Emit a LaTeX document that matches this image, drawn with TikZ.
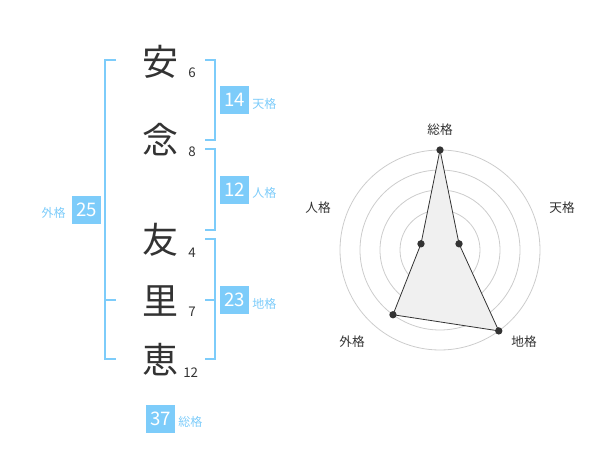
\documentclass[tikz,border=0pt]{standalone}
\usepackage{fontspec}
\setmainfont{Noto Sans CJK JP}
\definecolor{kakublue}{RGB}{125,204,250}
\definecolor{inkgray}{RGB}{51,51,51}
\definecolor{ringgray}{RGB}{204,204,204}
\tikzset{
  kanji/.style={inner sep=0pt,text=inkgray,font=\fontsize{27}{27}\selectfont},
  strokes/.style={anchor=west,inner sep=0.75pt,text=inkgray,font=\fontsize{10}{10}\selectfont},
  scorebox/.style={fill=kakublue,text=white,minimum width=21.75pt,minimum height=21pt,inner sep=0pt,font=\fontsize{14}{14}\selectfont},
  kakulabel/.style={anchor=west,inner sep=0.75pt,text=kakublue,font=\fontsize{9}{10}\selectfont},
  bracket/.style={draw=kakublue,line width=1.5pt},
  ring/.style={draw=ringgray,line width=0.6pt},
  radarlabel/.style={inner sep=0.75pt,text=inkgray,font=\fontsize{9.5}{10}\selectfont},
  radardot/.style={circle,fill=inkgray,inner sep=0pt,minimum size=5.5pt}
}
\begin{document}
\begin{tikzpicture}[x=0.75pt,y=0.75pt,yscale=-1,xscale=1]
      \useasboundingbox (0,0) rectangle (600,470);

      % Text Node
      \node [kanji] (an) at (160,62) {安};
      \node [kanji] (nen) at (160,140) {念};
      \node [kanji] (tomo) at (160,240) {友};
      \node [kanji] (sato) at (160,301) {里};
      \node [kanji] (megumi) at (160,360) {恵};
      % Text Node
      \node [strokes] (s1) at (187,73) {6};
      \node [strokes] (s2) at (187,152) {8};
      \node [strokes] (s3) at (187,253) {4};
      \node [strokes] (s4) at (187,312) {7};
      \node [strokes] (s5) at (182,373) {12};

      %Shape: Brackets
      \draw [bracket] (116,60) -- (105,60) -- (105,359) -- (116,359) (105,300) -- (116,300);
      \draw [bracket] (205,60) -- (214.5,60) -- (214.5,140) -- (205,140);
      \draw [bracket] (205,149.5) -- (214.5,149.5) -- (214.5,230) -- (205,230);
      \draw [bracket] (205,239.5) -- (214.5,239.5) -- (214.5,359) -- (205,359) (205,300) -- (214.5,300);

      % Score boxes
      \node [scorebox] (ten) at (234.5,100) {14};
      \node [kakulabel] (tenl) at (251,104) {天格};
      \node [scorebox] (jin) at (234.5,190) {12};
      \node [kakulabel] (jinl) at (251,193) {人格};
      \node [scorebox] (chi) at (234.5,300) {23};
      \node [kakulabel] (chil) at (251,304) {地格};
      \node [scorebox] (gai) at (86.5,210) {25};
      \node [kakulabel,anchor=east] (gail) at (67,213) {外格};
      \node [scorebox] (sou) at (160.5,419) {37};
      \node [kakulabel] (soul) at (177,422) {総格};

      % Radar
      \coordinate (c) at (440,250);
      \foreach \r in {20,40,...,100}
        \draw [ring] (c) circle (\r);
      \fill [ringgray] (c) circle (4);
      \path (c) ++(0,-100) coordinate (psou);
      \path (c) ++(-18:20) coordinate (pten);
      \path (c) ++(54:100) coordinate (pchi);
      \path (c) ++(126:80) coordinate (pgai);
      \path (c) ++(-162:20) coordinate (pjin);
      \draw [draw=inkgray,fill=black!6,line width=0.6pt] (psou) -- (pten) -- (pchi) -- (pgai) -- (pjin) -- cycle;
      \foreach \p in {psou,pten,pchi,pgai,pjin}
        \node [radardot] (d\p) at (\p) {};

      % Text Node
      \path (c) ++(0,-120) node [radarlabel] (lsou) {総格};
      \path (c) ++(122,-42) node [radarlabel] (lten) {天格};
      \path (c) ++(84,92) node [radarlabel] (lchi) {地格};
      \path (c) ++(-88,92) node [radarlabel] (lgai) {外格};
      \path (c) ++(-122,-42) node [radarlabel] (ljin) {人格};

\end{tikzpicture}
\end{document}
